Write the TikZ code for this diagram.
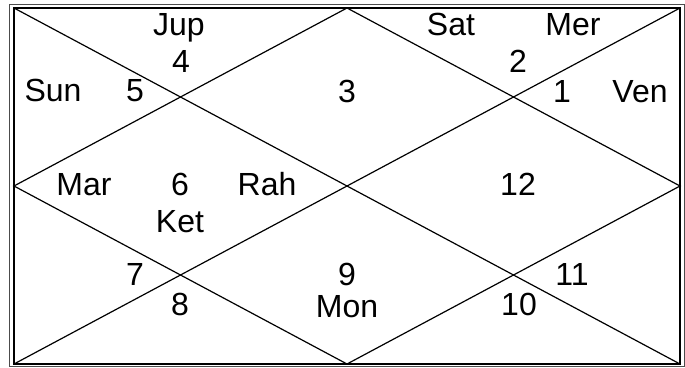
\documentclass[tikz,border=0pt]{standalone}
\usepackage{fontspec}
\setmainfont{Liberation Sans}
\begin{document}
\begin{tikzpicture}[x=1pt, y=-1pt, lbl/.style={inner sep=0pt, anchor=base, font=\fontsize{32}{38}\selectfont}]
    \useasboundingbox (0,0) rectangle (685,367);
    \coordinate (tl) at (14,8);
    \coordinate (tr) at (680,8);
    \coordinate (bl) at (14,364);
    \coordinate (br) at (680,364);
    \coordinate (tm) at (347,8);
    \coordinate (bm) at (347,364);
    \coordinate (lm) at (14,186);
    \coordinate (rm) at (680,186);

    \draw[line width=0.8pt, black!70] (9,4) rectangle (684,366);
    \draw[line width=1.6pt] (tl) rectangle (br);
    \draw[line width=1.2pt] (tl) -- (br) (tr) -- (bl);
    \draw[line width=1.2pt] (tm) -- (rm) -- (bm) -- (lm) -- cycle;

    \node[lbl] at (179, 35) (jup) {Jup};
    \node[lbl] at (181, 72) (h4) {4};
    \node[lbl] at (53, 101) (sun) {Sun};
    \node[lbl] at (135, 101) (h5) {5};
    \node[lbl] at (347, 102) (h3) {3};
    \node[lbl] at (451, 35) (sat) {Sat};
    \node[lbl] at (573, 35) (mer) {Mer};
    \node[lbl] at (518, 72) (h2) {2};
    \node[lbl] at (562, 102) (h1) {1};
    \node[lbl] at (640, 102) (ven) {Ven};
    \node[lbl] at (84, 195) (mar) {Mar};
    \node[lbl] at (180, 195) (h6) {6};
    \node[lbl] at (267, 195) (rah) {Rah};
    \node[lbl] at (180, 232) (ket) {Ket};
    \node[lbl] at (518, 195) (h12) {12};
    \node[lbl] at (135, 285) (h7) {7};
    \node[lbl] at (180, 315) (h8) {8};
    \node[lbl] at (347, 285) (h9) {9};
    \node[lbl] at (347, 317) (mon) {Mon};
    \node[lbl] at (572, 285) (h11) {11};
    \node[lbl] at (519, 315) (h10) {10};
\end{tikzpicture}
\end{document}
